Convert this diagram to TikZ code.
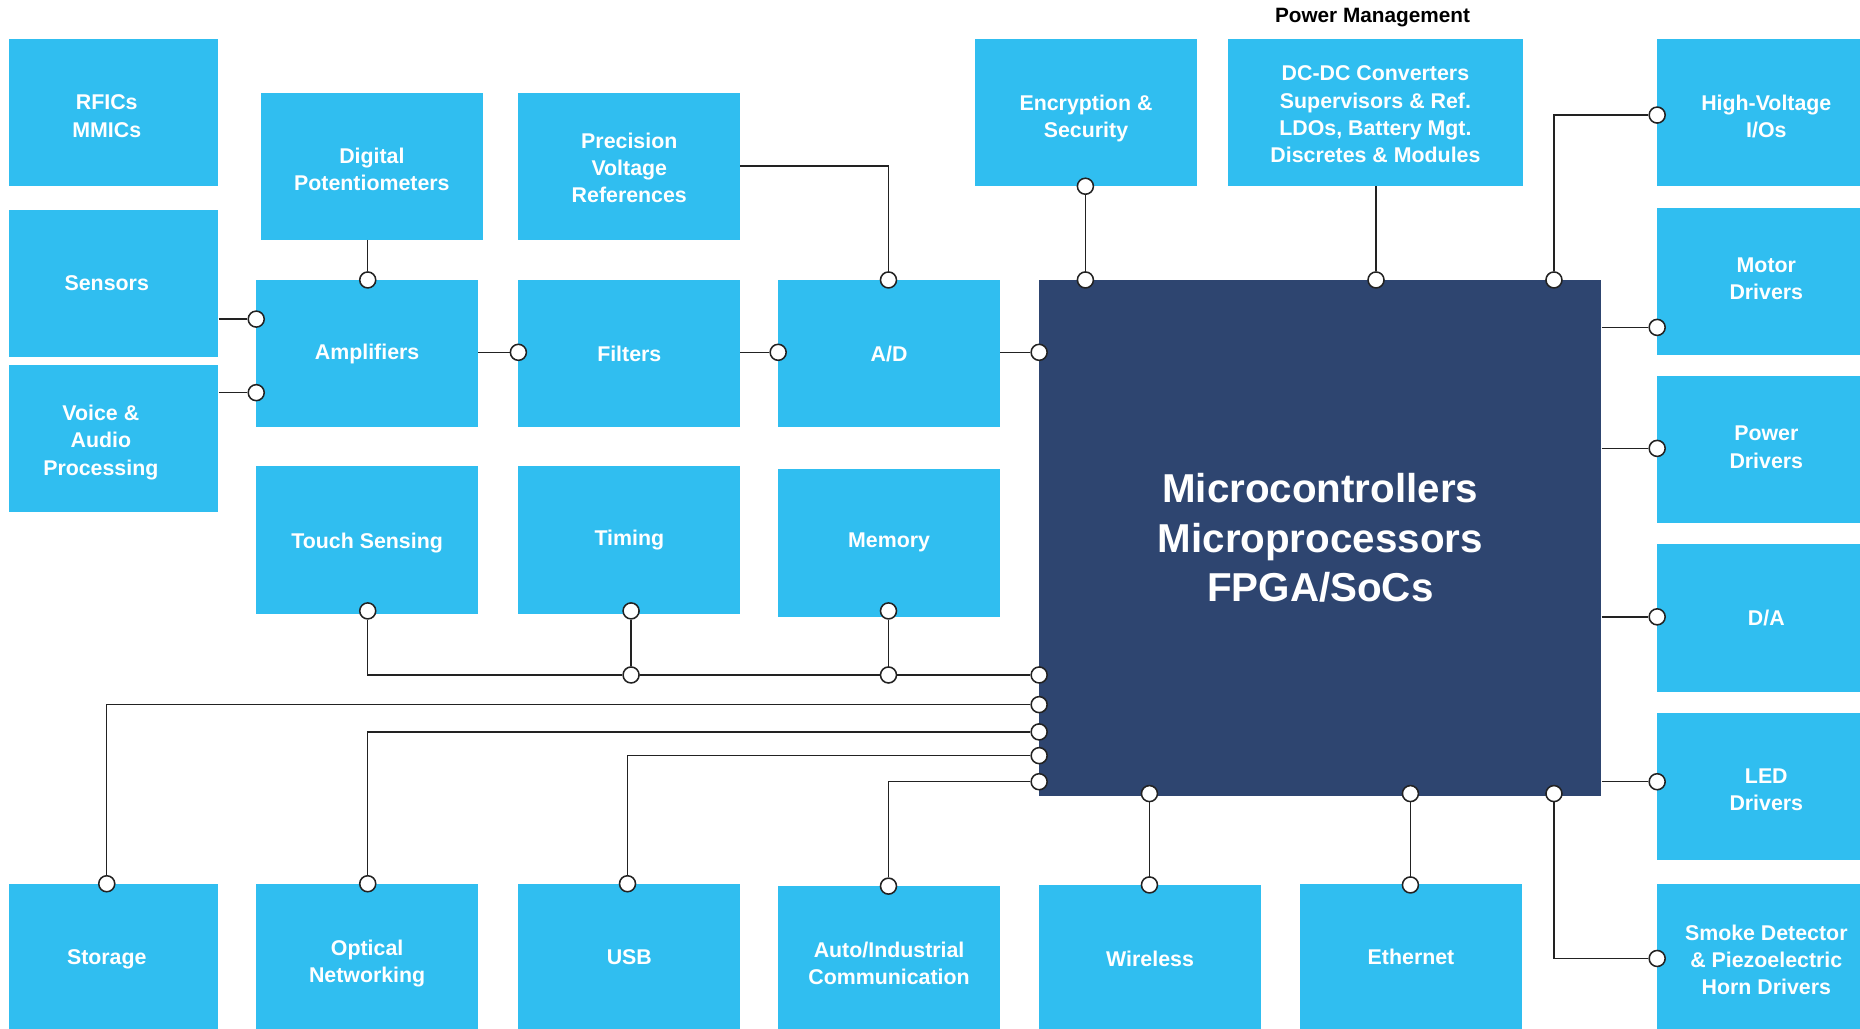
\documentclass[tikz,border=0pt]{standalone}
\usepackage{fontspec}
\setmainfont{Liberation Sans}
\definecolor{lblue}{HTML}{30BEF0}
\definecolor{navy}{HTML}{2E4570}
\definecolor{wireclr}{HTML}{222222}
\begin{document}
\begin{tikzpicture}[x=1pt,y=-1pt,
  blk/.style={fill=lblue, inner sep=0pt, text=white, align=center,
    font=\bfseries\fontsize{18}{23}\selectfont},
  blktext/.style={text=white, align=center, inner sep=0pt,
    font=\bfseries\fontsize{18}{23}\selectfont},
  jack/.style={circle, draw=wireclr, fill=white, line width=1.3pt, minimum size=13.5pt, inner sep=0pt},
  wire/.style={draw=wireclr, line width=1.2pt}]
\fill[white] (0,0) rectangle (1568,867);
\clip (0,0) rectangle (1568,867);
% boxes
\node[blk, minimum width=176pt, minimum height=124pt,
  label={[blktext, xshift=-6pt, yshift=-3pt]center:RFICs\\MMICs}] (rfic) at (96,95) {};
\node[blk, minimum width=187pt, minimum height=124pt,
  label={[blktext, yshift=-3pt]center:Digital\\Potentiometers}] (dpot) at (313.5,140) {};
\node[blk, minimum width=187pt, minimum height=124pt,
  label={[blktext, yshift=-1.5pt]center:Precision\\Voltage\\References}] (prec) at (530.5,140) {};
\node[blk, minimum width=187pt, minimum height=124pt,
  label={[blktext, yshift=-5pt]center:Encryption \&\\Security}] (enc) at (915.5,95) {};
\node[blk, minimum width=249pt, minimum height=124pt,
  label={[blktext, yshift=-1.5pt]center:DC-DC Converters\\Supervisors \& Ref.\\LDOs, Battery Mgt.\\Discretes \& Modules}] (dcdc) at (1159.5,95) {};
\node[font=\bfseries\fontsize{17.5}{20}\selectfont, text=black, inner sep=0pt] (pm) at (1157,15) {Power Management};
\node[blk, minimum width=184pt, minimum height=124pt,
  label={[blktext, yshift=-3pt]center:High-Voltage\\I/Os}] (hv) at (1489,95) {};
\node[blk, minimum width=176pt, minimum height=124pt,
  label={[blktext, xshift=-6pt]center:Sensors}] (sens) at (96,239) {};
\node[blk, minimum width=176pt, minimum height=124pt,
  label={[blktext, xshift=-11pt, yshift=-3pt]center:Voice \&\\Audio\\Processing}] (voice) at (96,370) {};
\node[blk, minimum width=187pt, minimum height=124pt] (amp) at (309.5,298) {Amplifiers};
\node[blk, minimum width=187pt, minimum height=124pt] (filt) at (530.5,298) {Filters};
\node[blk, minimum width=187pt, minimum height=124pt] (ad) at (749.5,298) {A/D};
\node[fill=navy, inner sep=0pt, minimum width=474pt, minimum height=435pt, text=white, align=center,
  font=\bfseries\fontsize{34}{41.5}\selectfont] (mcu) at (1113,453.5) {Microcontrollers\\Microprocessors\\FPGA/SoCs};
\node[blk, minimum width=184pt, minimum height=124pt,
  label={[blktext, yshift=2pt]center:Motor\\Drivers}] (motor) at (1489,237) {};
\node[blk, minimum width=184pt, minimum height=124pt,
  label={[blktext, yshift=2pt]center:Power\\Drivers}] (power) at (1489,379) {};
\node[blk, minimum width=184pt, minimum height=124pt] (da) at (1489,521) {D/A};
\node[blk, minimum width=184pt, minimum height=124pt,
  label={[blktext, yshift=-3pt]center:LED\\Drivers}] (led) at (1489,663) {};
\node[blk, minimum width=184pt, minimum height=124pt,
  label={[blktext, yshift=-2pt]center:Smoke Detector\\\& Piezoelectric\\Horn Drivers}] (smoke) at (1489,807) {};
\node[blk, minimum width=187pt, minimum height=125pt,
  label={[blktext, yshift=-2pt]center:Touch Sensing}] (touch) at (309.5,455.5) {};
\node[blk, minimum width=187pt, minimum height=125pt] (timing) at (530.5,455.5) {Timing};
\node[blk, minimum width=187pt, minimum height=125pt] (memory) at (749.5,457.5) {Memory};
\node[blk, minimum width=176pt, minimum height=124pt,
  label={[blktext, xshift=-6pt, yshift=-2pt]center:Storage}] (storage) at (96,807) {};
\node[blk, minimum width=187pt, minimum height=124pt,
  label={[blktext, yshift=-5pt]center:Optical\\Networking}] (optical) at (309.5,807) {};
\node[blk, minimum width=187pt, minimum height=124pt] (usb) at (530.5,807) {USB};
\node[blk, minimum width=187pt, minimum height=124pt,
  label={[blktext, yshift=-3pt]center:Auto/Industrial\\Communication}] (auto) at (749.5,809) {};
\node[blk, minimum width=187pt, minimum height=124pt] (wless) at (969.5,808) {Wireless};
\node[blk, minimum width=187pt, minimum height=124pt] (eth) at (1189.5,807) {Ethernet};
% circles
\node[jack] (cdp) at (310,236) {};
\node[jack] (cadt) at (749,236) {};
\node[jack] (csens) at (216,269) {};
\node[jack] (cvoice) at (216,331) {};
\node[jack] (cfilt) at (437,297) {};
\node[jack] (cad) at (656,297) {};
\node[jack] (cmad) at (876,297) {};
\node[jack] (cenc) at (915,157) {};
\node[jack] (cmenc) at (915,236) {};
\node[jack] (cdc) at (1160,236) {};
\node[jack] (cmhv) at (1310,236) {};
\node[jack] (chv) at (1397,97) {};
\node[jack] (cmot) at (1397,276) {};
\node[jack] (cpow) at (1397,378) {};
\node[jack] (cda) at (1397,520) {};
\node[jack] (cled) at (1397,659) {};
\node[jack] (cmsm) at (1310,669) {};
\node[jack] (csm) at (1397,808) {};
\node[jack] (cmwl) at (969,669) {};
\node[jack] (cwl) at (969,746) {};
\node[jack] (cmeth) at (1189,669) {};
\node[jack] (ceth) at (1189,746) {};
\node[jack] (ctouch) at (310,515) {};
\node[jack] (ctim) at (532,515) {};
\node[jack] (cmem) at (749,515) {};
\node[jack] (cj1) at (532,569) {};
\node[jack] (cj2) at (749,569) {};
\node[jack] (cm1) at (876,569) {};
\node[jack] (cm2) at (876,594) {};
\node[jack] (cst) at (90,745) {};
\node[jack] (cm3) at (876,617) {};
\node[jack] (copt) at (310,745) {};
\node[jack] (cm4) at (876,637) {};
\node[jack] (cusb) at (529,745) {};
\node[jack] (cm5) at (876,659) {};
\node[jack] (cauto) at (749,747) {};
% connectors
\draw[wire] (dpot.south -| cdp) -- (cdp);
\draw[wire] (prec.east) -| (cadt);
\draw[wire] (sens.east |- csens) -- (csens);
\draw[wire] (voice.east |- cvoice) -- (cvoice);
\draw[wire] (amp.east |- cfilt) -- (cfilt);
\draw[wire] (filt.east |- cad) -- (cad);
\draw[wire] (ad.east |- cmad) -- (cmad);
\draw[wire] (cenc) -- (cmenc);
\draw[wire] (dcdc.south -| cdc) -- (cdc);
\draw[wire] (cmhv) |- (chv);
\draw[wire] (mcu.east |- cmot) -- (cmot);
\draw[wire] (mcu.east |- cpow) -- (cpow);
\draw[wire] (mcu.east |- cda) -- (cda);
\draw[wire] (mcu.east |- cled) -- (cled);
\draw[wire] (cmsm) |- (csm);
\draw[wire] (cmwl) -- (cwl);
\draw[wire] (cmeth) -- (ceth);
\draw[wire] (ctouch) |- (cj1);
\draw[wire] (cj1) -- (cj2);
\draw[wire] (cj2) -- (cm1);
\draw[wire] (ctim) -- (cj1);
\draw[wire] (cmem) -- (cj2);
\draw[wire] (cst) |- (cm2);
\draw[wire] (copt) |- (cm3);
\draw[wire] (cusb) |- (cm4);
\draw[wire] (cauto) |- (cm5);
\end{tikzpicture}
\end{document}
